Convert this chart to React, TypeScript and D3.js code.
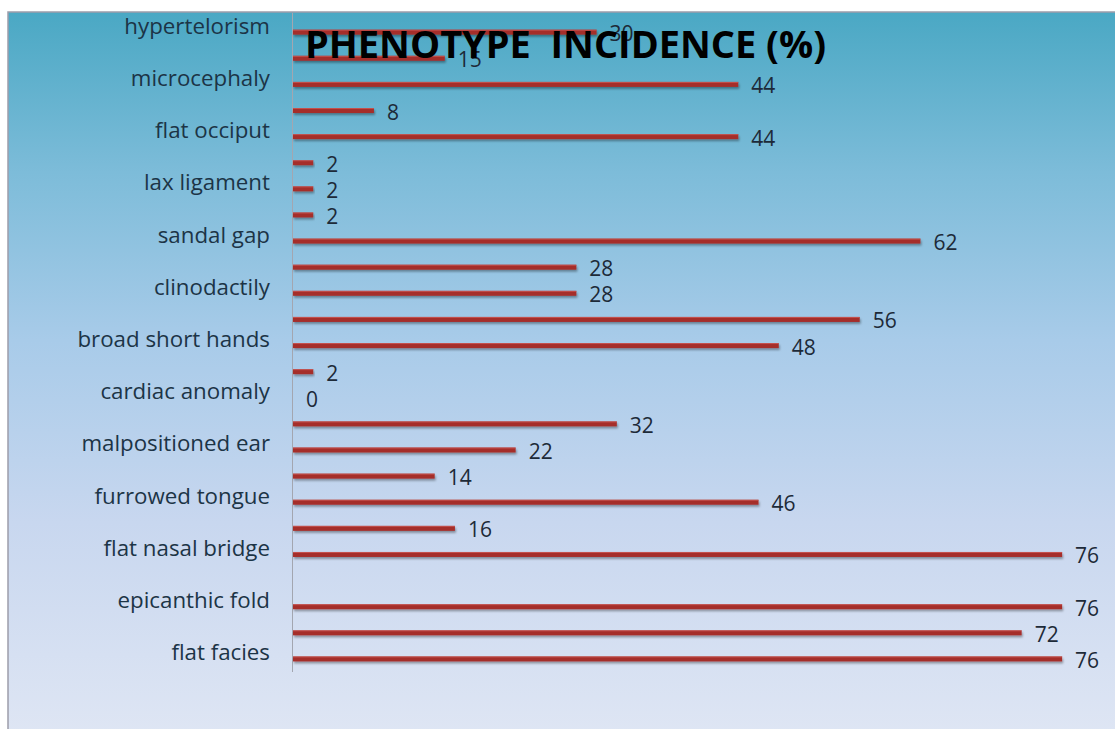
import React from "react";
import * as d3 from "d3";

const categories = [
  "hypertelorism",
  "microcephaly",
  "flat occiput",
  "lax ligament",
  "sandal gap",
  "clinodactily",
  "broad short hands",
  "cardiac anomaly",
  "malpositioned ear",
  "furrowed tongue",
  "flat nasal bridge",
  "epicanthic fold",
  "flat facies",
];
// upper bar of each category pair
const seriesA: (number | null)[] = [null, 15, 8, 2, 2, 28, 56, 2, 32, 14, 16, null, 72];
// lower bar of each category pair
const seriesB: (number | null)[] = [30, 44, 44, 2, 62, 28, 48, 0, 22, 46, 76, 76, 76];
const seriesKeys = ["A", "B"];
const title = "PHENOTYPE  INCIDENCE (%)";

export default function App() {
  const W = 1115;
  const H = 729;
  const frameX = 8;
  const frameY = 12;
  const axisX = 293;

  const x = d3.scaleLinear().domain([0, 80]).range([axisX, axisX + 80 * 10.12]);
  const y = d3.scaleBand<string>().domain(categories).range([-7, 672]).padding(0);
  const sub = d3.scaleBand<string>().domain(seriesKeys).range([0, y.bandwidth()]).padding(0);

  type Bar = { cat: string; key: string; v: number; cy: number };
  const bars: Bar[] = [];
  categories.forEach((c, i) => {
    [seriesA[i], seriesB[i]].forEach((v, k) => {
      if (v === null || v === undefined) return;
      const key = seriesKeys[k];
      bars.push({ cat: c, key, v, cy: (y(c) ?? 0) + (sub(key) ?? 0) + sub.bandwidth() / 2 });
    });
  });

  const barH = 5;

  return (
    <svg
      width={W}
      height={H}
      style={{ position: "fixed", left: 0, top: 0, display: "block" }}
      fontFamily="'Open Sans', sans-serif"
    >
      <defs>
        <linearGradient id="bg" x1="0" y1="0" x2="0" y2="1">
          <stop offset="0" stopColor="#4aa8c4" />
          <stop offset="0.22" stopColor="#7dbcd9" />
          <stop offset="0.45" stopColor="#a8cbe9" />
          <stop offset="0.7" stopColor="#c8d7ef" />
          <stop offset="1" stopColor="#dfe6f4" />
        </linearGradient>
        <clipPath id="plotClip">
          <rect x={frameX} y={frameY + 1} width={W} height={H} />
        </clipPath>
        <filter id="shadow" x="-5%" y="-100%" width="110%" height="400%">
          <feDropShadow dx="1" dy="2" stdDeviation="1.2" floodColor="#000" floodOpacity="0.35" />
        </filter>
      </defs>
      <rect x={0} y={0} width={W} height={H} fill="#ffffff" />
      <rect x={frameX} y={frameY} width={W} height={H} fill="url(#bg)" stroke="#9d9daa" strokeWidth={1.5} />

      <g clipPath="url(#plotClip)">
        <line x1={axisX - 0.5} x2={axisX - 0.5} y1={frameY} y2={672} stroke="#a3a6b0" strokeWidth={1} />
        {bars.map((b, i) => (
          <g key={i}>
            <rect
              x={x(0)}
              y={b.cy - barH / 2}
              width={Math.max(0, x(b.v) - x(0))}
              height={barH}
              fill="#a52e2b"
              filter="url(#shadow)"
            />
            <rect x={x(0)} y={b.cy - barH / 2} width={Math.max(0, x(b.v) - x(0))} height={1} fill="#cc5a56" opacity={0.8} />
          </g>
        ))}
        {bars.map((b, i) => (
          <text
            key={"v" + i}
            x={x(b.v) + 13}
            y={b.cy + 1}
            dominantBaseline="central"
            fontSize={21}
            fill="#1d2a38"
          >
            {b.v}
          </text>
        ))}
        {categories.map((c) => (
          <text
            key={c}
            x={270}
            y={(y(c) ?? 0) + y.bandwidth() / 2 + 6}
            textAnchor="end"
            dominantBaseline="central"
            fontSize={22.3}
            fill="#1c3446"
          >
            {c}
          </text>
        ))}
        <text
          x={305}
          y={58}
          fontSize={37}
          fontWeight="bold"
          fill="#000"
          textLength={521}
          lengthAdjust="spacingAndGlyphs"
          style={{ whiteSpace: "pre" }}
        >
          {title}
        </text>
      </g>
    </svg>
  );
}
